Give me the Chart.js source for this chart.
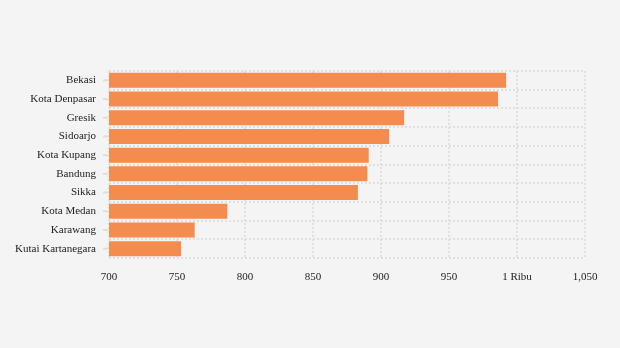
<!DOCTYPE html>
<html lang="id">
<head>
    <meta charset="UTF-8">
    <title>Bar Chart</title>
    <script src="https://cdn.jsdelivr.net/npm/chart.js"></script>
    <style>
        html, body { margin: 0; padding: 0; background: #f4f4f4; }
        #wrap { width: 620px; height: 348px; }
    </style>
</head>
<body>
    <div id="wrap"><canvas id="myChart"></canvas></div>
    <script>
        const cities = ['Bekasi', 'Kota Denpasar', 'Gresik', 'Sidoarjo', 'Kota Kupang',
            'Bandung', 'Sikka', 'Kota Medan', 'Karawang', 'Kutai Kartanegara'];
        const values = [992, 986, 917, 906, 891, 890, 883, 787, 763, 753];
        const xTicks = [700, 750, 800, 850, 900, 950, 1000, 1050];

        // small tick marks at the category centres (grid lines sit between)
        const centreTicks = {
            id: 'centreTicks',
            afterDraw(chart) {
                const y = chart.scales.y;
                const ctx = chart.ctx;
                ctx.save();
                ctx.strokeStyle = '#dedede';
                ctx.lineWidth = 2;
                y.ticks.forEach((t, i) => {
                    const py = y.getPixelForTick(i);
                    ctx.beginPath();
                    ctx.moveTo(y.right - 6, py);
                    ctx.lineTo(y.right - 1, py);
                    ctx.stroke();
                });
                ctx.restore();
            }
        };

        const gridStyle = { color: '#e0e0e0', lineWidth: 2, drawTicks: false };
        const labelFont = { family: '"Liberation Serif", serif', size: 11 };

        const ctx = document.getElementById('myChart').getContext('2d');
        const myChart = new Chart(ctx, {
            type: 'bar',
            data: {
                labels: cities,
                datasets: [{
                    data: values,
                    backgroundColor: '#f48b4f',
                    borderWidth: 0,
                    barPercentage: 1,
                    categoryPercentage: 0.8
                }]
            },
            options: {
                indexAxis: 'y',
                responsive: true,
                maintainAspectRatio: false,
                animation: false,
                layout: { padding: { top: 71, right: 35, bottom: 0, left: 0 } },
                plugins: {
                    legend: { display: false },
                    tooltip: { enabled: false }
                },
                scales: {
                    x: {
                        min: 700,
                        max: 1050,
                        afterBuildTicks: s => { s.ticks = xTicks.map(v => ({ value: v })); },
                        afterFit: s => { s.height = 90; },
                        grid: gridStyle,
                        border: { display: false, dash: [2, 2] },
                        ticks: {
                            padding: 13,
                            color: '#222',
                            font: labelFont,
                            maxRotation: 0,
                            callback: v => v === 1000 ? '1 Ribu' : v.toLocaleString('en-US')
                        }
                    },
                    y: {
                        afterFit: s => { s.width = 109; },
                        grid: { ...gridStyle, offset: true },
                        border: { display: false, dash: [2, 2] },
                        ticks: {
                            padding: 13,
                            color: '#222',
                            font: labelFont
                        }
                    }
                }
            },
            plugins: [centreTicks]
        });
    </script>
</body>
</html>
